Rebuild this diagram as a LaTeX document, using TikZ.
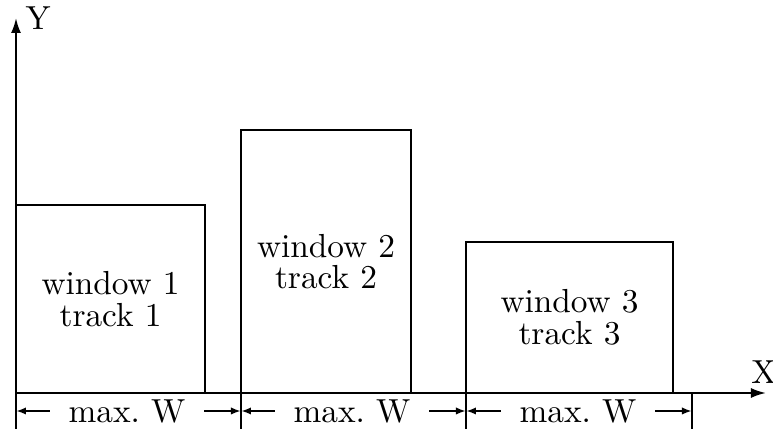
\documentclass[tikz,border=0pt]{standalone}
\usetikzlibrary{arrows.meta}

\tikzset{
  axis/.style={semithick,-{Latex[length=4.5pt,width=3pt]}},
  win/.style={semithick},
  wintext/.style={align=center,font=\fontsize{10pt}{9.5pt}\selectfont},
  dim/.style={semithick,-{Latex[length=3pt,width=2.2pt]}},
  dimtext/.style={inner sep=5.5pt},
}

\begin{document}
\begin{tikzpicture}[x=0.3pt,y=0.3pt]
    \useasboundingbox (0,0) rectangle (773,429);

    % axes
    \coordinate (o) at (16,36);
    \coordinate (ybot) at (16,0);
    \coordinate (ytip) at (16,411);
    \coordinate (xtip) at (766,36);
    \draw[axis] (ybot) -- (ytip);
    \draw[axis] (o) -- (xtip);
    \node[anchor=south west, inner sep=0pt] (ylab) at (25,399) {Y};
    \node[anchor=south, inner sep=0pt] (xlab) at (764,45) {X};

    % windows
    \draw[win] (16,36) rectangle (205,224);
    \draw[win] (241,36) rectangle (411,299);
    \draw[win] (466,36) rectangle (673,187);
    \node[wintext] (w1) at (110.5,130) {window 1\\track 1};
    \node[wintext] (w2) at (326,167.5) {window 2\\track 2};
    \node[wintext] (w3) at (569.5,111.5) {window 3\\track 3};

    % ticks below the x axis
    \foreach \x/\n in {241/1, 466/2, 692/3} {
        \draw[semithick] (\x,0) -- (\x,36);
        \coordinate (d\n) at (\x,18);
    }
    \coordinate (d0) at (16,18);

%    \draw[gray!40] (0,0) grid[step=50] (773,429);

    % max. W spans
    \node[dimtext] (s1) at (127,18) {max.~W};
    \node[dimtext] (s2) at (352,18) {max.~W};
    \node[dimtext] (s3) at (578,18) {max.~W};
    \draw[dim] (s1) -- (d0);
    \draw[dim] (s1) -- (d1);
    \draw[dim] (s2) -- (d1);
    \draw[dim] (s2) -- (d2);
    \draw[dim] (s3) -- (d2);
    \draw[dim] (s3) -- (d3);

\end{tikzpicture}
\end{document}
